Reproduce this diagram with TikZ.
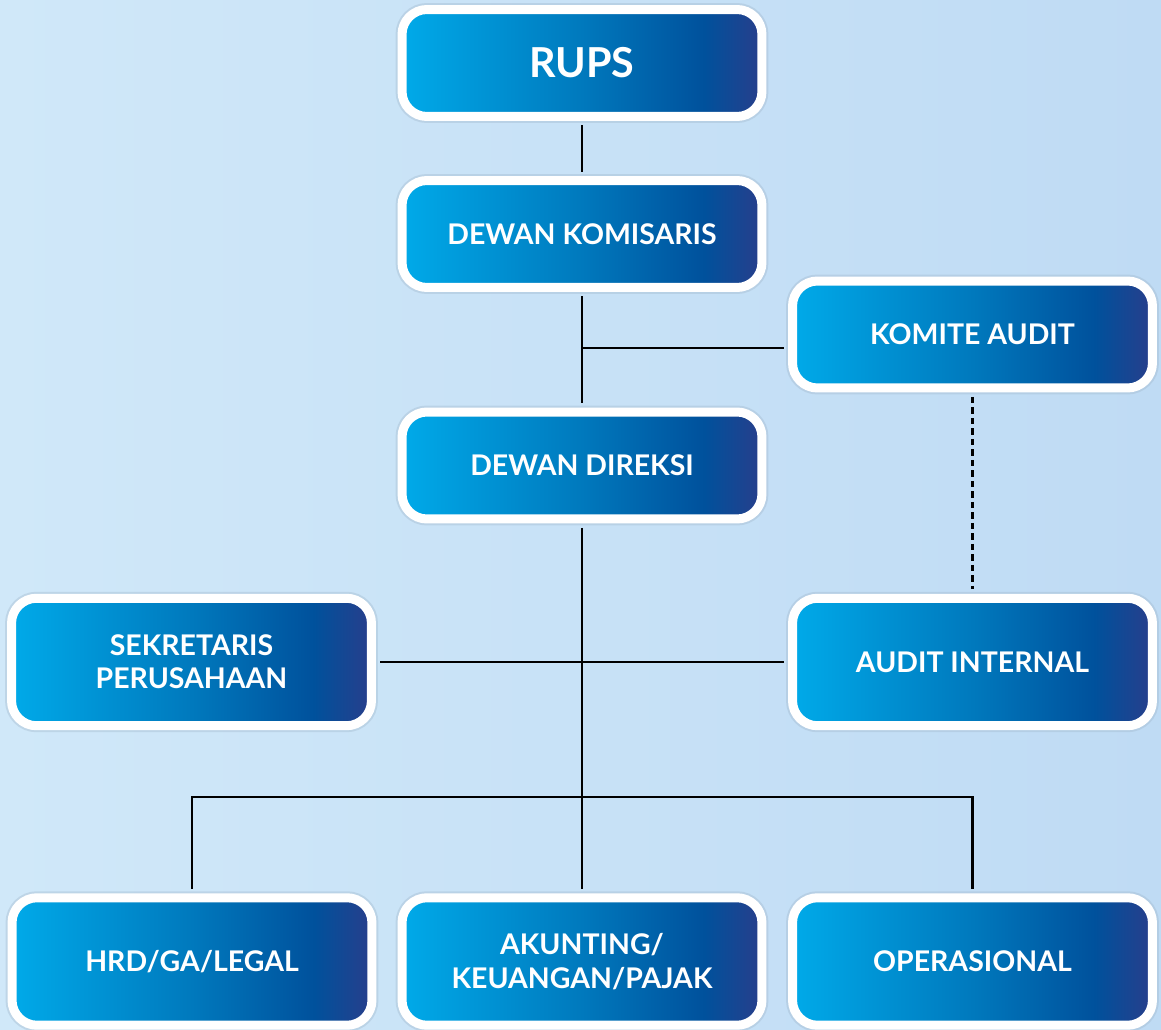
\documentclass[tikz,border=0pt]{standalone}
\usepackage{fontspec}
\setmainfont{Lato}
\definecolor{bgL}{HTML}{D0E8F9}
\definecolor{bgR}{HTML}{BFDBF4}
\definecolor{gA}{HTML}{00AAE9}
\definecolor{gB}{HTML}{0079BD}
\definecolor{gC}{HTML}{00519C}
\definecolor{gD}{HTML}{283E8B}
\definecolor{shd}{HTML}{9DB4C8}
\pgfdeclarehorizontalshading{boxgrad}{100bp}{color(0bp)=(gA); color(25bp)=(gA); color(50bp)=(gB); color(67bp)=(gC); color(75bp)=(gD); color(100bp)=(gD)}
\tikzset{
  orgbox/.style={draw=white, line width=0.18cm, rounded corners=0.5cm, shading=boxgrad,
    text=white, font=\bfseries\fontsize{16.2}{19}\selectfont, align=center, inner sep=0pt,
    minimum width=7.2cm, minimum height=2.14cm,
    preaction={draw=shd, draw opacity=0.35, line width=0.26cm}},
  tallbox/.style={orgbox, minimum height=2.55cm},
  link/.style={draw=black, line width=0.045cm, shorten <=0.09cm, shorten >=0.09cm},
  halflink/.style={draw=black, line width=0.045cm, shorten >=0.09cm},
  dashlink/.style={link, dash pattern=on 0.13cm off 0.08cm}
}
\begin{document}
\begin{tikzpicture}[x=0.02cm,y=-0.02cm]
\useasboundingbox (0,0) rectangle (1161,1030);
\shade[left color=bgL, right color=bgR] (0,0) rectangle (1161,1030);

\node[orgbox, font=\bfseries\fontsize{23.5}{28}\selectfont] (rups) at (582,63) {RUPS};
\node[orgbox] (dk) at (582,234) {DEWAN KOMISARIS};
\node[orgbox] (ka) at (972.5,334.5) {KOMITE AUDIT};
\node[orgbox] (dd) at (582,465.5) {DEWAN DIREKSI};
\node[tallbox] (sek) at (191.5,662) {SEKRETARIS\\PERUSAHAAN};
\node[tallbox] (ai) at (972.5,662) {AUDIT INTERNAL};
\node[tallbox] (hrd) at (192,961.5) {HRD/GA/LEGAL};
\node[tallbox] (akun) at (582,961.5) {AKUNTING/\\KEUANGAN/PAJAK};
\node[tallbox] (ops) at (972.5,961.5) {OPERASIONAL};

\coordinate (kj) at (582,348);
\coordinate (bj) at (582,797);
\draw[link] (rups.south) -- (dk.north);
\draw[link] (dk.south) -- (dd.north);
\draw[halflink] (kj) -- (kj -| ka.west);
\draw[link] (dd.south) -- (akun.north);
\draw[link] (sek.east) -- (ai.west);
\draw[link] (hrd.north) |- (bj) -| (ops.north);
\draw[dashlink] (ka.south) -- (ai.north);
\end{tikzpicture}
\end{document}
